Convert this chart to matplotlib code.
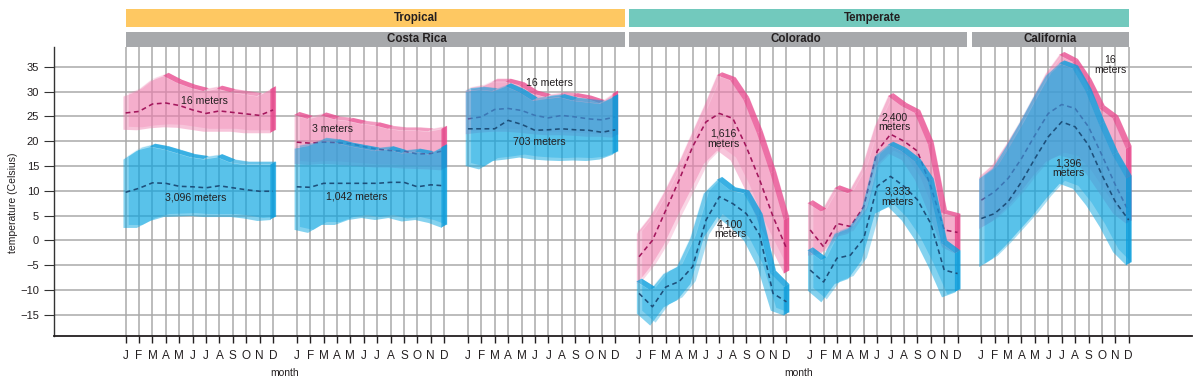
import numpy as np
import matplotlib
matplotlib.use("Agg")
import matplotlib.pyplot as plt
import matplotlib.transforms as mtransforms
from matplotlib.patches import Rectangle

plt.rcParams["font.family"] = ["Liberation Sans", "DejaVu Sans"]

MONTHS = list("JFMAMJJASOND")

# min / max / mean monthly temperature, one pair of sites per panel group
# group 0: Costa Rica, 16 m vs 3,096 m
CR1_LOW_HI = [29.1, 30.1, 32.2, 33.2, 31.8, 30.8, 30.1, 30.6, 29.9, 29.5, 29.1, 30.5]
CR1_LOW_LO = [22.4, 22.3, 22.7, 22.9, 22.8, 22.4, 22.0, 22.0, 22.0, 21.7, 21.7, 21.7]
CR1_LOW_MEAN = [25.7, 26.0, 27.5, 27.7, 27.2, 26.3, 25.6, 26.1, 25.8, 25.5, 25.2, 26.3]
CR1_HIGH_HI = [16.4, 18.2, 18.9, 18.4, 17.6, 16.8, 16.4, 16.8, 15.7, 15.3, 15.3, 15.3]
CR1_HIGH_LO = [2.6, 2.6, 4.0, 4.8, 4.9, 5.0, 4.8, 4.8, 4.8, 4.5, 4.0, 4.2]
CR1_HIGH_MEAN = [9.7, 10.5, 11.6, 11.5, 10.9, 10.8, 10.6, 11.0, 10.6, 10.2, 9.9, 9.9]

# group 1: Costa Rica, 3 m vs 1,042 m
CR2_LOW_HI = [25.3, 24.5, 25.2, 24.4, 24.1, 23.5, 23.2, 22.5, 22.2, 22.2, 22.0, 22.5]
CR2_LOW_LO = [15.5, 15.3, 15.5, 15.4, 15.2, 15.0, 14.8, 14.8, 14.6, 14.5, 14.4, 14.2]
CR2_LOW_MEAN = [19.8, 19.6, 19.8, 19.7, 19.5, 18.9, 18.4, 18.1, 18.0, 17.4, 17.5, 18.1]
CR2_HIGH_HI = [18.6, 19.1, 20.1, 19.8, 19.1, 18.6, 18.1, 18.4, 17.6, 17.9, 17.4, 18.8]
CR2_HIGH_LO = [2.2, 1.6, 3.2, 3.2, 4.2, 4.6, 4.2, 4.6, 3.9, 4.2, 3.6, 2.6]
CR2_HIGH_MEAN = [10.8, 10.7, 11.5, 11.5, 11.5, 11.5, 11.5, 11.7, 11.7, 10.8, 11.2, 11.0]

# group 2: Costa Rica, 16 m vs 703 m
CR3_LOW_HI = [30.3, 30.8, 32.0, 32.0, 31.3, 29.6, 28.9, 29.3, 29.1, 28.6, 27.7, 29.6]
CR3_LOW_LO = [21.5, 21.8, 22.0, 22.0, 21.8, 21.5, 21.3, 21.3, 21.2, 21.0, 21.0, 20.8]
CR3_LOW_MEAN = [24.5, 24.9, 26.4, 26.6, 26.2, 25.2, 24.7, 25.2, 24.9, 24.5, 24.3, 24.9]
CR3_HIGH_HI = [30.1, 30.4, 30.1, 31.1, 29.9, 28.2, 28.6, 28.9, 28.2, 27.9, 27.6, 28.9]
CR3_HIGH_LO = [15.1, 14.4, 16.1, 16.4, 16.8, 16.4, 16.2, 16.1, 16.2, 16.1, 16.4, 17.4]
CR3_HIGH_MEAN = [22.5, 22.5, 22.5, 24.2, 23.4, 22.2, 22.3, 22.5, 22.3, 22.2, 21.8, 22.3]

# group 3: Colorado, 1,616 m vs 4,100 m
CO1_LOW_HI = [1.4, 4.8, 9.5, 14.8, 20.9, 26.9, 33.3, 32.3, 28.3, 21.6, 13.5, 4.1]
CO1_LOW_LO = [-8.7, -5.3, -0.9, 4.8, 10.1, 15.5, 18.2, 16.2, 10.8, 4.1, -1.3, -6.7]
CO1_LOW_MEAN = [-3.3, 0.0, 6.1, 12.2, 18.9, 23.9, 25.6, 24.6, 18.9, 12.2, 4.8, -1.6]
CO1_HIGH_HI = [-8.3, -10.0, -6.7, -5.3, 0.5, 9.5, 12.2, 10.1, 9.5, 4.8, -6.7, -9.4]
CO1_HIGH_LO = [-14.7, -17.1, -13.4, -12.0, -8.7, 0.7, 4.8, 2.7, 0.0, -5.3, -14.1, -15.1]
CO1_HIGH_MEAN = [-10.7, -13.4, -9.4, -8.3, -5.3, 4.1, 8.8, 7.4, 5.4, 1.1, -10.7, -12.4]

# group 4: Colorado, 2,400 m vs 3,333 m
CO2_LOW_HI = [7.5, 5.8, 10.5, 9.5, 14.3, 23.0, 29.1, 27.1, 25.7, 19.3, 5.5, 4.8]
CO2_LOW_LO = [-3.0, -2.6, 0.7, 1.4, 5.5, 14.9, 17.6, 16.3, 12.2, 5.5, -1.3, -2.6]
CO2_LOW_MEAN = [2.1, -1.3, 3.4, 2.8, 6.8, 18.0, 21.4, 20.0, 18.0, 10.9, 2.1, 1.6]
CO2_HIGH_HI = [-2.0, -4.0, 1.4, 2.4, 6.1, 17.0, 19.3, 18.0, 15.9, 11.9, -0.6, -2.6]
CO2_HIGH_LO = [-10.1, -12.4, -8.7, -7.7, -4.0, 5.5, 6.8, 4.1, 0.1, -5.3, -11.4, -10.4]
CO2_HIGH_MEAN = [-6.0, -8.4, -3.6, -3.0, 0.4, 10.9, 12.9, 10.9, 8.2, 3.4, -6.0, -6.7]

# group 5: California, 16 m vs 1,396 m
CA_LOW_HI = [12.8, 15.2, 19.2, 23.6, 28.6, 33.7, 37.4, 36.0, 32.0, 26.6, 24.6, 18.5]
CA_LOW_LO = [2.4, 4.0, 6.5, 9.5, 13.0, 16.0, 17.2, 16.5, 13.5, 9.5, 5.5, 3.4]
CA_LOW_MEAN = [8.1, 9.8, 12.5, 16.5, 21.2, 25.6, 27.4, 26.6, 22.9, 17.2, 11.2, 5.8]
CA_HIGH_HI = [12.5, 14.5, 18.9, 23.6, 28.6, 33.3, 35.7, 34.7, 30.0, 23.3, 17.2, 12.5]
CA_HIGH_LO = [-5.3, -3.6, -0.9, 2.1, 5.1, 8.5, 11.5, 10.5, 7.1, 2.8, -2.3, -5.0]
CA_HIGH_MEAN = [4.4, 5.4, 7.8, 11.8, 16.5, 20.9, 23.9, 22.9, 19.2, 13.2, 7.8, 4.1]

LOW_SITES = [
    (CR1_LOW_LO, CR1_LOW_HI, CR1_LOW_MEAN),
    (CR2_LOW_LO, CR2_LOW_HI, CR2_LOW_MEAN),
    (CR3_LOW_LO, CR3_LOW_HI, CR3_LOW_MEAN),
    (CO1_LOW_LO, CO1_LOW_HI, CO1_LOW_MEAN),
    (CO2_LOW_LO, CO2_LOW_HI, CO2_LOW_MEAN),
    (CA_LOW_LO, CA_LOW_HI, CA_LOW_MEAN),
]
HIGH_SITES = [
    (CR1_HIGH_LO, CR1_HIGH_HI, CR1_HIGH_MEAN),
    (CR2_HIGH_LO, CR2_HIGH_HI, CR2_HIGH_MEAN),
    (CR3_HIGH_LO, CR3_HIGH_HI, CR3_HIGH_MEAN),
    (CO1_HIGH_LO, CO1_HIGH_HI, CO1_HIGH_MEAN),
    (CO2_HIGH_LO, CO2_HIGH_HI, CO2_HIGH_MEAN),
    (CA_HIGH_LO, CA_HIGH_HI, CA_HIGH_MEAN),
]

ELEVATION_LABELS = [
    (0, 5.9, 28.2, "16 meters"),
    (0, 5.2, 8.7, "3,096 meters"),
    (1, 2.7, 22.5, "3 meters"),
    (1, 4.5, 8.8, "1,042 meters"),
    (2, 6.1, 31.8, "16 meters"),
    (2, 5.3, 19.9, "703 meters"),
    (3, 6.3, 20.5, "1,616\nmeters"),
    (3, 6.8, 2.2, "4,100\nmeters"),
    (4, 6.3, 23.9, "2,400\nmeters"),
    (4, 6.5, 8.8, "3,333\nmeters"),
    (5, 9.6, 35.4, "16\nmeters"),
    (5, 6.5, 14.6, "1,396\nmeters"),
]

GROUP_STEP = 12.77
DX, DY = 0.2, 0.6

PINK = dict(face="#ef7dae", edge="#e8458b", line="#a3165c", a_front=0.45, a_back=0.3)
BLUE = dict(face="#0ba6e1", edge="#0a9ddc", line="#1d4f7a", a_front=0.5, a_back=0.35)


def draw_ribbon(ax, g, lo, hi, mean, style, z):
    x = g * GROUP_STEP + np.arange(12)
    lo, hi = np.asarray(lo), np.asarray(hi)
    # back face, pushed right/up to fake the ribbon depth
    ax.fill_between(x + DX, lo + DY, hi + DY, color=style["face"], alpha=style["a_back"], lw=0, zorder=z)
    ax.fill_between(x - DX, lo, hi, color=style["face"], alpha=style["a_front"], lw=0, zorder=z + 0.1)
    # top rim: strong on falling stretches, faint on rising ones
    for i in range(11):
        slope = hi[i + 1] - hi[i]
        a = 0.7 if slope < -0.4 else (0.12 if slope > 0.4 else 0.4)
        ax.fill([x[i] - DX, x[i + 1] - DX, x[i + 1] + DX, x[i] + DX],
                [hi[i], hi[i + 1], hi[i + 1] + DY, hi[i] + DY],
                color=style["edge"], alpha=a, lw=0, zorder=z + 0.2)
    ax.fill([x[-1] - DX, x[-1] + DX, x[-1] + DX, x[-1] - DX],
            [lo[-1], lo[-1] + DY, hi[-1] + DY, hi[-1]],
            color=style["edge"], alpha=0.85, lw=0, zorder=z + 0.2)
    ax.plot(x, mean, ls=(0, (3, 2.2)), color=style["line"], lw=1.15, zorder=z + 0.3)


fig = plt.figure(figsize=(12, 3.87), dpi=100)
ax = fig.add_axes([0.0454, 0.1326, 0.9479, 0.7460])
ax.set_xlim(-5.31, 79.57)
ax.set_ylim(-19.23, 39.0)

month_x = np.concatenate([g * GROUP_STEP + np.arange(12) for g in range(6)])
grid_color = "#a9a9a9"
ax.vlines(month_x, -19.23, 39.0, color=grid_color, lw=1.1, zorder=0.5)
yticks = np.arange(-15, 36, 5)
for yv in yticks:
    ax.axhline(yv, color=grid_color, lw=1.1, zorder=0.5)

for g in range(6):
    draw_ribbon(ax, g, *LOW_SITES[g], PINK, z=2 + g * 2)
    draw_ribbon(ax, g, *HIGH_SITES[g], BLUE, z=3 + g * 2)

for g, mx, ty, txt in ELEVATION_LABELS:
    ax.text(g * GROUP_STEP + mx, ty, txt, ha="center", va="center", fontsize=7.6,
            color="#231f20", linespacing=0.95, zorder=30)

ax.set_yticks(yticks)
ax.set_yticklabels([f"{v}".replace("-", "\u2212") for v in yticks], fontsize=8, color="#231f20")
ax.set_xticks(month_x)
ax.set_xticklabels(MONTHS * 6, fontsize=8.5, color="#231f20")
ax.tick_params(axis="y", direction="out", length=7, width=0.8, pad=4, color="#333333")
ax.tick_params(axis="x", direction="out", length=5, width=1.0, pad=5, color="#231f20")
for side in ["top", "right"]:
    ax.spines[side].set_visible(False)
ax.spines["left"].set_color("#333333")
ax.spines["left"].set_linewidth(1.0)
ax.spines["bottom"].set_color("#231f20")
ax.spines["bottom"].set_linewidth(1.3)

trans = mtransforms.blended_transform_factory(ax.transData, ax.transAxes)
headers = [
    (0.0, 37.3, 1.0703, 1.1317, "#fec862", "Tropical", 21.7),
    (37.55, 74.9, 1.0703, 1.1317, "#72c9bd", "Temperate", 55.7),
    (0.0, 37.3, 0.999, 1.053, "#a7a9ac", "Costa Rica", 21.7),
    (37.55, 62.8, 0.999, 1.053, "#a7a9ac", "Colorado", 50.0),
    (63.13, 74.9, 0.999, 1.053, "#a7a9ac", "California", 68.96),
]
for x0, x1, y0, y1, col, label, tx in headers:
    ax.add_patch(Rectangle((x0, y0), x1 - x0, y1 - y0, transform=trans, facecolor=col,
                           edgecolor="none", clip_on=False, zorder=1))
    ax.text(tx, (y0 + y1) / 2, label, transform=trans, ha="center", va="center",
            fontsize=8.3, fontweight="bold", color="#231f20", clip_on=False)

for mx in [11.88, 50.2]:
    ax.text(mx, -0.129, "month", transform=trans, ha="center", va="center", fontsize=7.5,
            color="#231f20")
fig.text(0.011, 0.475, "temperature (Celsius)", rotation=90, ha="center", va="center",
         fontsize=7.5, color="#231f20")

fig.savefig("out.png", dpi=100)
